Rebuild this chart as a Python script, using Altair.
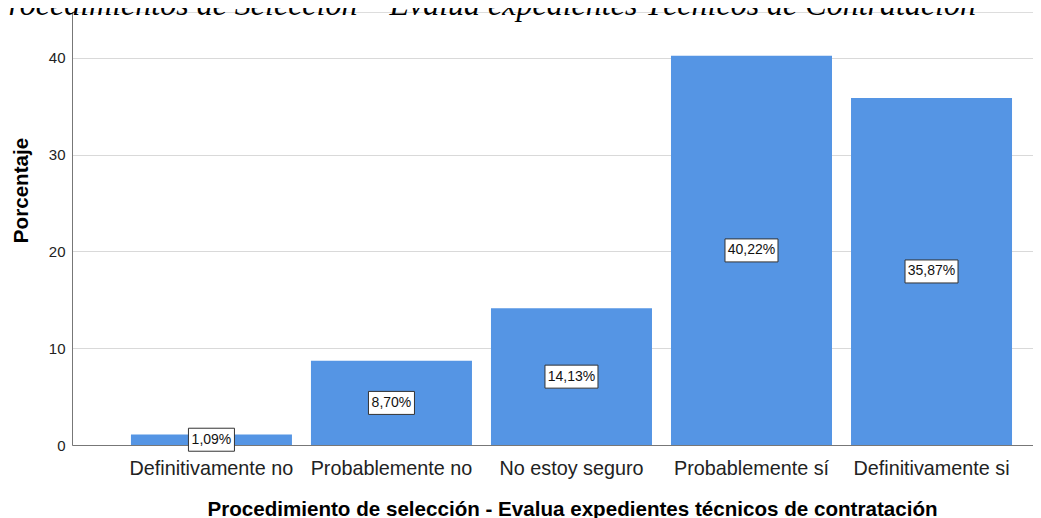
import altair as alt
import pandas as pd

categorias = ["Definitivamente no", "Probablemente no", "No estoy seguro",
              "Probablemente sí", "Definitivamente si"]
porcentajes = [1.09, 8.70, 14.13, 40.22, 35.87]
etiquetas = ["1,09%", "8,70%", "14,13%", "40,22%", "35,87%"]
titulo = "Procedimientos de Selección – Evalúa expedientes Técnicos de Contratación"
titulo_x = "Procedimiento de selección - Evalua expedientes técnicos de contratación"
titulo_y = "Porcentaje"
ticks_y = [0, 10, 20, 30, 40]

df = pd.DataFrame({"cat": categorias, "pct": porcentajes, "lab": etiquetas})
df["mid"] = df["pct"] / 2
df["n"] = df["lab"].str.len().astype(str)

W, H = 961, 433
BLUE = "#5595E4"

x = alt.X("cat:N", sort=categorias,
          scale=alt.Scale(paddingInner=0.1056, paddingOuter=0.222, align=0.7375),
          axis=alt.Axis(title=titulo_x, labelAngle=0, labelFontSize=19.8,
                        labelFont="Liberation Sans", labelColor="#222222",
                        labelBaseline="alphabetic", labelPadding=29,
                        ticks=False, tickSize=0, domainColor="#777777",
                        titleFont="Liberation Sans", titleFontSize=20.6,
                        titleFontWeight="bold", titleColor="#000000",
                        titleX=500, titleY=70, titleBaseline="alphabetic",
                        titleAlign="center", grid=False))

base = alt.Chart(df)

bars = base.mark_bar(color=BLUE).encode(
    x=x,
    y=alt.Y("pct:Q", scale=alt.Scale(domain=[0, 44.75], nice=False),
            axis=alt.Axis(title=titulo_y, values=ticks_y, format="d",
                          labelFontSize=15, labelFont="Liberation Sans",
                          labelColor="#222222", labelPadding=7,
                          ticks=False, tickSize=0, domainColor="#777777",
                          gridColor="#d9d9d9", grid=True,
                          titleFont="Liberation Sans", titleFontSize=20.6,
                          titleFontWeight="bold", titleColor="#000000",
                          titleAngle=270, titleX=-45, titleY=178,
                          titleBaseline="alphabetic", titleAlign="center")),
)

p5 = "M-0.868,-0.434L0.868,-0.434L0.868,0.434L-0.868,0.434Z"
p6 = "M-1,-0.434L1,-0.434L1,0.434L-1,0.434Z"

boxes = base.mark_point(filled=True, fill="white", stroke="#333333",
                        strokeWidth=1, opacity=1, size=53 * 53).encode(
    x=alt.X("cat:N", sort=categorias),
    y=alt.Y("mid:Q"),
    shape=alt.Shape("n:N", scale=alt.Scale(domain=["5", "6"], range=[p5, p6]),
                    legend=None),
)

texts = base.mark_text(fontSize=14, font="Liberation Sans", color="#111111",
                       baseline="middle", align="center").encode(
    x=alt.X("cat:N", sort=categorias),
    y=alt.Y("mid:Q"),
    text="lab:N",
)

title_layer = alt.Chart(pd.DataFrame({"t": [titulo]})).mark_text(
    font="Liberation Serif", fontStyle="italic", fontSize=32, align="left",
    baseline="alphabetic", color="#000000"
).encode(x=alt.value(-83), y=alt.value(3), text="t:N")

chart = alt.layer(bars, boxes, texts, title_layer).properties(
    width=W, height=H,
    autosize=alt.AutoSizeParams(type="none"),
    padding={"left": 64, "top": 4, "right": 0, "bottom": 73},
).configure_view(stroke=None).configure(background="white")

chart.save("out.html", embed_options={"renderer": "svg", "actions": False})
